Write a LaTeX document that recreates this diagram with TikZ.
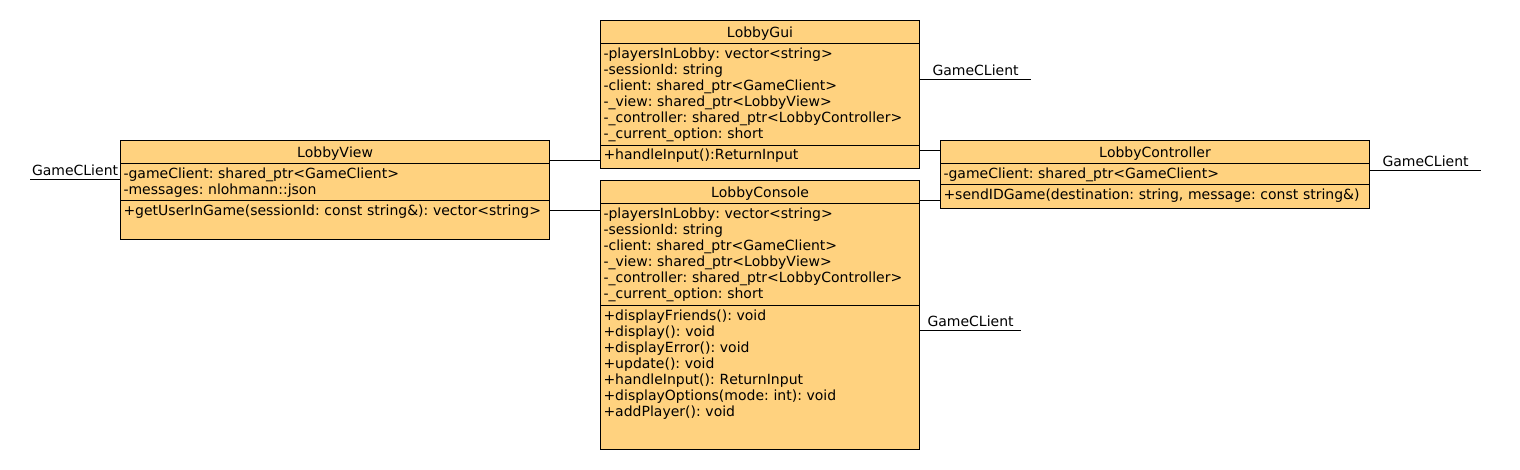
\documentclass[tikz,border=0pt]{standalone}
\usepackage{fontspec}
\setmainfont[Kerning=Off]{DejaVu Sans}
\frenchspacing
\usetikzlibrary{positioning}
\definecolor{classfill}{RGB}{255,210,127}
\newdimen\hdim
\newdimen\ndim
\newdimen\wdim
\hdim=23.5pt
\ndim=319pt
\wdim=429pt
\tikzstyle{classname}=[
  anchor=north,
  draw=black,
  fill=classfill,
  font={\fontsize{14}{16}\selectfont},
  inner sep=0pt,
  line width=1pt,
  minimum height=\hdim,
  outer sep=0pt,
  text centered,
  text depth=6pt,
  text height=17.5pt,
]
\tikzstyle{compartment}=[
  align=left,
  draw=black,
  fill=classfill,
  font={\fontsize{14}{16}\selectfont},
  inner xsep=3pt,
  inner ysep=0pt,
  line width=1pt,
  outer sep=0pt,
  text height=14.5pt,
]
\tikzstyle{link}=[
  draw=black,
  line width=1pt,
]
\tikzstyle{stublabel}=[
  anchor=base west,
  font={\fontsize{14}{16}\selectfont},
  inner sep=0pt,
  outer sep=0pt,
  yshift=4pt,
]
\tikzset{
  x=1pt,
  y=1pt,
}

\begin{document}
\begin{tikzpicture}
    \useasboundingbox (0,0) rectangle (1520,-470);
    % classes
    \node (gui) [classname, minimum width=\ndim] at (760,-20.5) {LobbyGui};
    \node (guiattr) [compartment, text width=\ndim-6pt, text depth=87pt, below=0pt of gui]
      {-playersInLobby: vector<string>\\
       -sessionId: string\\
       -client: shared\_ptr<GameClient>\\
       -\_view: shared\_ptr<LobbyView>\\
       -\_controller: shared\_ptr<LobbyController>\\
       -\_current\_option: short};
    \node (guiop) [compartment, text width=\ndim-6pt, text depth=9pt, below=0pt of guiattr]
      {+handleInput():ReturnInput};
    \node (view) [classname, minimum width=\wdim] at (335,-140.5) {LobbyView};
    \node (viewattr) [compartment, text width=\wdim-6pt, text depth=22.5pt, below=0pt of view]
      {-gameClient: shared\_ptr<GameClient>\\
       -messages: nlohmann::json};
    \node (viewop) [compartment, text width=\wdim-6pt, text depth=24pt, below=0pt of viewattr]
      {+getUserInGame(sessionId: const string\&): vector<string>};
    \node (console) [classname, minimum width=\ndim] at (760,-180.5) {LobbyConsole};
    \node (consoleattr) [compartment, text width=\ndim-6pt, text depth=87pt, below=0pt of console]
      {-playersInLobby: vector<string>\\
       -sessionId: string\\
       -client: shared\_ptr<GameClient>\\
       -\_view: shared\_ptr<LobbyView>\\
       -\_controller: shared\_ptr<LobbyController>\\
       -\_current\_option: short};
    \node (consoleop) [compartment, text width=\ndim-6pt, text depth=129pt, below=0pt of consoleattr]
      {+displayFriends(): void\\
       +display(): void\\
       +displayError(): void\\
       +update(): void\\
       +handleInput(): ReturnInput\\
       +displayOptions(mode: int): void\\
       +addPlayer(): void};
    \node (ctrl) [classname, minimum width=\wdim] at (1155,-140.5) {LobbyController};
    \node (ctrlattr) [compartment, text width=\wdim-6pt, text depth=6.5pt, below=0pt of ctrl]
      {-gameClient: shared\_ptr<GameClient>};
    \node (ctrlop) [compartment, text width=\wdim-6pt, text depth=9.5pt, below=0pt of ctrlattr]
      {+sendIDGame(destination: string, message: const string\&)};
    % links between classes
    \draw [link] ([yshift=-3pt]guiop.west) -- ([yshift=-3pt]guiop.west -| view.east);
    \draw [link] ([yshift=9.5pt]viewop.east) -- ([yshift=9.5pt]viewop.east -| console.west);
    \draw [link] ([yshift=1.5pt]ctrl.west) -- ([yshift=1.5pt]ctrl.west -| guiop.east);
    \draw [link] ([yshift=-3.3pt]ctrlop.west) -- ([yshift=-3.3pt]ctrlop.west -| consoleattr.east);
    % GameCLient stubs
    \coordinate (viewstub) at (30,-180);
    \coordinate (guistub) at (1030.5,-80);
    \coordinate (consolestub) at (1020.5,-330);
    \coordinate (ctrlstub) at (1481,-170.5);
    \draw [link] (viewattr.west |- viewstub) -- (viewstub)
      node (viewgc) [stublabel, pos=1, xshift=2pt] {GameCLient};
    \draw [link] (guiattr.east |- guistub) -- (guistub)
      node (guigc) [stublabel, pos=0, xshift=13pt] {GameCLient};
    \draw [link] (consoleop.east |- consolestub) -- (consolestub)
      node (consolegc) [stublabel, pos=0, xshift=8pt] {GameCLient};
    \draw [link] (ctrlattr.east |- ctrlstub) -- (ctrlstub)
      node (ctrlgc) [stublabel, pos=0, xshift=13pt] {GameCLient};
\end{tikzpicture}
\end{document}
